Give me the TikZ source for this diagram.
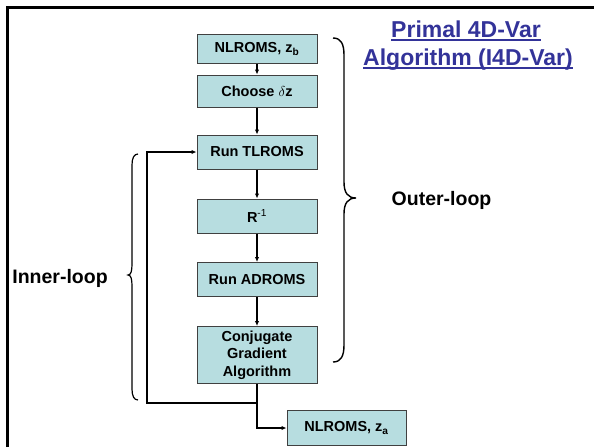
\documentclass[tikz,border=0pt]{standalone}
\usepackage{fontspec}
\setmainfont{Liberation Sans}
\usetikzlibrary{arrows.meta}
\definecolor{boxfill}{RGB}{183,221,224}
\definecolor{titleblue}{RGB}{51,51,153}
\begin{document}
\begin{tikzpicture}[x=1pt,y=-1pt,
  stage/.style={draw=black!75, line width=1pt, fill=boxfill, minimum width=120pt,
    inner sep=0pt, align=center, font=\fontsize{14.5}{17.5}\selectfont\bfseries},
  flow/.style={line width=1.3pt, -{Latex[length=5pt,width=4.5pt]}},
  link/.style={line width=1.3pt},
  curly/.style={line width=1.4pt},
  label/.style={anchor=base, inner sep=0pt, font=\fontsize{19.5}{23}\selectfont\bfseries},
  heading/.style={anchor=base, inner sep=0pt, text=titleblue,
    font=\fontsize{23}{28}\selectfont\bfseries}]
\useasboundingbox (0,0) rectangle (594,447);
% slide frame
\draw[line width=3pt] (7.5,447) -- (7.5,7.5) -- (594,7.5);

% stages of the algorithm
\node[stage, minimum height=29pt] (nlb) at (257,49) {NLROMS, z\textsubscript{b}};
\node[stage, minimum height=32pt] (choose) at (257,91) {Choose {\mdseries$\delta$}z};
\node[stage, minimum height=34pt] (tl) at (257,152) {Run TLROMS};
\node[stage, minimum height=34pt] (rinv) at (257,216) {R\textsuperscript{\mdseries -1}};
\node[stage, minimum height=34pt] (ad) at (257,279.5) {Run ADROMS};
\node[stage, minimum height=57pt] (cg) at (257,355) {Conjugate\\Gradient\\Algorithm};
\node[stage, minimum height=35pt, minimum width=119pt] (nla) at (346.5,428) {NLROMS, z\textsubscript{a}};

% forward chain
\draw[flow] (nlb) -- (choose);
\draw[flow] (choose) -- (tl);
\draw[flow] (tl) -- (rinv);
\draw[flow] (rinv) -- (ad);
\draw[flow] (ad) -- (cg);

% inner loop return and exit
\coordinate (split) at (257,403);
\coordinate (back) at (147,403);
\draw[link] (cg.south) -- (split);
\draw[flow] (split) -- (back) |- (tl.west);
\draw[flow] (split) |- (nla.west);

% outer-loop brace
\draw[curly] (333,38) .. controls (341,38) and (344,44) .. (344,55) -- (344,182)
  .. controls (344,193) and (348,198) .. (356,198)
  .. controls (348,198) and (344,203) .. (344,214) -- (344,345)
  .. controls (344,356) and (341,362) .. (333,362);

% inner-loop brace
\draw[curly, line width=1.2pt] (138,154) .. controls (134,154) and (132,158) .. (132,165) -- (132,264)
  .. controls (132,271) and (131,275) .. (128,275)
  .. controls (131,275) and (132,279) .. (132,286) -- (132,389)
  .. controls (132,396) and (134,400) .. (138,400);

% labels
\node[label] (inner) at (60,283) {Inner-loop};
\node[label] (outer) at (441.5,205) {Outer-loop};

% title
\node[heading] (t1) at (466,37) {Primal 4D-Var};
\node[heading] (t2) at (468,65) {Algorithm (I4D-Var)};
\draw[titleblue, line width=1.8pt] ([yshift=-3pt]t1.base west) -- ([yshift=-3pt]t1.base east);
\draw[titleblue, line width=1.8pt] ([yshift=-3pt]t2.base west) -- ([yshift=-3pt]t2.base east);
\end{tikzpicture}
\end{document}
